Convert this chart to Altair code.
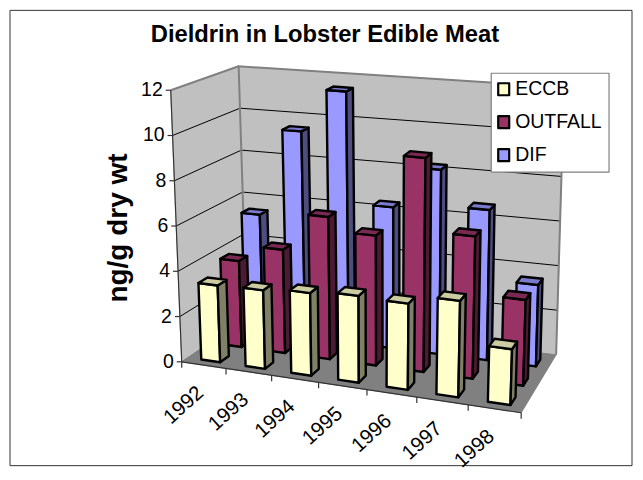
import altair as alt
import pandas as pd

years = ["1992", "1993", "1994", "1995", "1996", "1997", "1998"]
ECCB = [3.4, 3.45, 3.6, 3.75, 3.7, 4.1, 2.35]
OUTFALL = [3.9, 4.65, 6.35, 5.75, 9.4, 6.2, 3.7]
DIF = [5.45, 9.5, 11.5, 6.4, 8.3, 6.7, 3.6]
yticks = [0, 2, 4, 6, 8, 10, 12]
title = "Dieldrin in Lobster Edible Meat"
ytitle = "ng/g dry wt"

# corners of the projected box, in page pixels
FLB, FLT = (181, 361), (170, 89)
FRB, FRT = (521, 412), (530, 124)
BLB, BLT = (246, 317), (238, 65)
BRB, BRT = (556, 354), (564, 86)
K = 1.11
HMAX = 12.0


def lerp(a, b, t):
    return (a[0] + (b[0] - a[0]) * t, a[1] + (b[1] - a[1]) * t)


def P(t, d, h):
    u = t / 7.0
    w = u / (u + K * (1 - u)) if u > 0 else 0.0
    bot = lerp(lerp(FLB, FRB, w), lerp(BLB, BRB, w), d)
    top = lerp(lerp(FLT, FRT, w), lerp(BLT, BRT, w), d)
    return lerp(bot, top, h / HMAX)


polys = []
pid = [0]


def poly(pts, fill, stroke="#000000"):
    pid[0] += 1
    for i, p in enumerate(list(pts) + [pts[0], pts[1]]):
        polys.append(dict(pid=pid[0], seq=i, x=p[0], y=p[1], fill=fill, stroke=stroke))


# walls and floor
poly([P(0, 0, 0), P(0, 0, 12), P(0, 1, 12), P(0, 1, 0)], "#c0c0c0", "#c0c0c0")
poly([P(0, 1, 0), P(0, 1, 12), P(7, 1, 12), P(7, 1, 0)], "#c0c0c0", "#c0c0c0")
poly([P(0, 0, 0), P(0, 1, 0), P(7, 1, 0), P(7, 0, 0)], "#808080", "#808080")

grid_lines = []
for h in yticks[1:-1]:
    grid_lines.append([P(0, 0, h), P(0, 1, h), P(7, 1, h)])

series = [
    (DIF, 5 / 6, 0.04, 0.06, "#9999ff", "#4d4d80", "#7a7acc"),
    (OUTFALL, 1 / 2, 0.03, 0.065, "#993366", "#4d1a33", "#7a2952"),
    (ECCB, 1 / 6, 0.02, 0.07, "#ffffcc", "#808066", "#cccca3"),
]
GAP = 0.285
for vals, dc, shift, dhalf, c, cs, ct in series:
    for i, v in enumerate(vals):
        x0, x1 = i + GAP + shift, i + 1 - GAP + shift
        d0, d1 = dc - dhalf, dc + dhalf
        poly([P(x0, d0, 0), P(x1, d0, 0), P(x1, d0, v), P(x0, d0, v)], c)
        poly([P(x1, d0, 0), P(x1, d1, 0), P(x1, d1, v), P(x1, d0, v)], cs)
        poly([P(x0, d0, v), P(x1, d0, v), P(x1, d1, v), P(x0, d1, v)], ct)

# axes
axis_lines = [[P(0, 0, 0), P(0, 0, 12)], [P(0, 0, 0), P(7, 0, 0)]]
for h in yticks:
    a = P(0, 0, h)
    axis_lines.append([a, (a[0] - 5, a[1])])
for i in range(8):
    a = P(i, 0, 0)
    axis_lines.append([a, (a[0], a[1] + 6)])
edge_lines = [
    [P(0, 1, 0), P(0, 1, 12), P(7, 1, 12), P(7, 1, 0)],
    [P(0, 0, 12), P(0, 1, 12)],
]

X = alt.X("x:Q", axis=None, scale=alt.Scale(domain=[8, 635], range=[0, 627]))
Y = alt.Y("y:Q", axis=None, scale=alt.Scale(domain=[8, 472], range=[0, 464]))


def line_df(ls):
    rows = []
    for n, pts in enumerate(ls):
        for i, p in enumerate(pts):
            rows.append(dict(pid=n, seq=i, x=p[0], y=p[1]))
    return pd.DataFrame(rows)


def line_layer(ls, color, sw):
    return alt.Chart(line_df(ls)).mark_line(color=color, strokeWidth=sw, interpolate="linear").encode(
        x=X, y=Y, detail="pid:N", order="seq:Q")


def poly_layer(rows, sw):
    return alt.Chart(pd.DataFrame(rows)).mark_line(filled=True, strokeWidth=sw, strokeJoin="round").encode(
        x=X, y=Y, detail="pid:N", order="seq:Q",
        fill=alt.Fill("fill:N", scale=None),
        stroke=alt.Stroke("stroke:N", scale=None))


def text_layer(rows, **kw):
    return alt.Chart(pd.DataFrame(rows)).mark_text(font="Liberation Sans", color="#000000", **kw).encode(
        x=X, y=Y, text="label:N")


wall_rows = [r for r in polys if r["pid"] <= 3]
bar_rows = [r for r in polys if r["pid"] > 3]

# frame
frame = [[(9, 9), (632, 9), (632, 465), (9, 465), (9, 9)]]

# legend
legend_names = ["ECCB", "OUTFALL", "DIF"]
legend_cols = ["#ffffcc", "#993366", "#9999ff"]
legend_y = [88, 121, 154]
rid = 1000


def lpoly(pts, fill, stroke):
    global rid
    rid += 1
    out = []
    for i, p in enumerate(list(pts) + [pts[0], pts[1]]):
        out.append(dict(pid=rid, seq=i, x=p[0], y=p[1], fill=fill, stroke=stroke))
    return out


legend_box = lpoly([(491, 72), (609, 72), (609, 171), (491, 171)], "#ffffff", "#808080")
legend_sw = []
for c, y in zip(legend_cols, legend_y):
    legend_sw += lpoly([(498, y - 6), (509, y - 6), (509, y + 6), (498, y + 6)], c, "#000000")

ytick_rows = [dict(x=P(0, 0, h)[0] - 8, y=P(0, 0, h)[1], label=str(h)) for h in yticks]
cat_rows = []
for i, yr in enumerate(years):
    a = P(i + 0.5, 0, 0)
    cat_rows.append(dict(x=a[0] - 3, y=a[1] + 25, label=yr))

chart = alt.layer(
    poly_layer(wall_rows, 1),
    line_layer(grid_lines, "#000000", 1),
    line_layer(edge_lines, "#808080", 2),
    line_layer(axis_lines, "#333333", 1.2),
    poly_layer(bar_rows, 2.4),
    poly_layer(legend_box, 1.2),
    poly_layer(legend_sw, 2.2),
    line_layer(frame, "#333333", 1),
    text_layer([dict(x=324.5, y=34, label=title)], fontSize=23.8, fontWeight="bold", align="center", baseline="middle"),
    text_layer([dict(x=118, y=227, label=ytitle)], fontSize=28, fontWeight="bold", align="center", baseline="middle", angle=270),
    text_layer(ytick_rows, fontSize=19.5, align="right", baseline="middle"),
    text_layer(cat_rows, fontSize=20.5, align="right", baseline="middle", angle=318),
    text_layer([dict(x=515, y=y, label=n) for n, y in zip(legend_names, legend_y)], fontSize=19.5, align="left", baseline="middle"),
).properties(width=627, height=464, padding=0, background="#ffffff").configure_view(stroke=None)

chart.save("out.html", embed_options={"renderer": "svg", "actions": False})
